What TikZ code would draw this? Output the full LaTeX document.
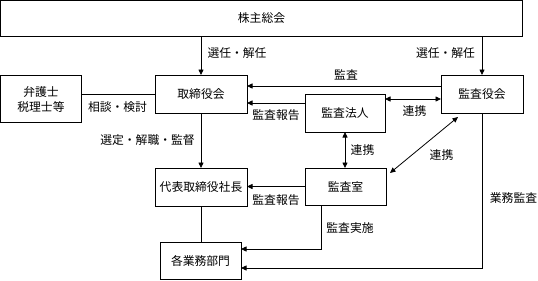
\documentclass[tikz,border=0pt]{standalone}
\usepackage{fontspec}
\setmainfont{Noto Sans CJK JP}
\usetikzlibrary{arrows.meta}
\begin{document}
\begin{tikzpicture}[x=1pt,y=-1pt,
  every node/.style={font=\fontsize{11.8}{15}\selectfont, inner sep=0pt, outer sep=0pt},
  box/.style={draw=black, line width=0.8pt, fill=white, align=center},
  lbl/.style={},
  arr/.style={line width=0.8pt, -{Triangle[length=5.5pt,width=5pt]}},
  dbl/.style={line width=0.8pt, {Triangle[length=5.5pt,width=5pt]}-{Triangle[length=5.5pt,width=5pt]}},
  ln/.style={line width=0.8pt}]
\useasboundingbox (0,0) rectangle (538,281);
% boxes
\node[box, minimum width=522pt, minimum height=36pt] (kabu) at (261.5,18.5) {株主総会};
\node[box, minimum width=92pt, minimum height=38pt] (tori) at (201,94) {取締役会};
\node[box, minimum width=81pt, minimum height=47pt] (ben) at (41,99) {弁護士\\税理士等};
\node[box, minimum width=82pt, minimum height=38pt] (yaku) at (482,94) {監査役会};
\node[box, minimum width=80pt, minimum height=38pt] (hojin) at (345,113) {監査法人};
\node[box, minimum width=92pt, minimum height=38pt] (daihyo) at (201,187) {代表取締役社長};
\node[box, minimum width=81pt, minimum height=37pt] (shitsu) at (345.5,186.5) {監査室};
\node[box, minimum width=81pt, minimum height=37pt] (gyomu) at (200.5,260.5) {各業務部門};
% connectors
\draw[arr] (tori.north |- kabu.south) -- (tori.north);
\draw[arr] (yaku.north |- kabu.south) -- (yaku.north);
\draw[ln] (tori.west -| ben.east) -- (tori.west);
\draw[arr] ([yshift=8pt]yaku.west) -- ([yshift=8pt]yaku.west -| tori.east);
\draw[arr] ([yshift=10pt]hojin.west) -- ([yshift=10pt]hojin.west -| tori.east);
\draw[dbl] ([yshift=14pt]hojin.east) -- ([yshift=14pt]hojin.east -| yaku.west);
\draw[arr] (tori.south) -- (daihyo.north);
\draw[dbl] (hojin.south) -- (hojin.south |- shitsu.north);
\coordinate (dA) at (390,173);
\coordinate (dB) at (458,117);
\draw[dbl] (dA) -- (dB);
\draw[arr] (shitsu.west) -- (shitsu.west -| daihyo.east);
\draw[ln] (daihyo.south) -- (daihyo.south |- gyomu.north);
\draw[arr] ([xshift=-24.5pt]shitsu.south) |- ([yshift=11.5pt]gyomu.east);
\draw[arr] (yaku.south) |- ([yshift=-7.5pt]gyomu.east);
% labels
\node[lbl] (l1) at (237,53) {選任・解任};
\node[lbl] (l2) at (445.5,53) {選任・解任};
\node[lbl] (l3) at (117.5,107) {相談・検討};
\node[lbl] (l4) at (346,75) {監査};
\node[lbl] (l5) at (276,115) {監査報告};
\node[lbl] (l6) at (414.5,111) {連携};
\node[lbl] (l7) at (147.5,140) {選定・解職・監督};
\node[lbl] (l8) at (362.5,150) {連携};
\node[lbl] (l9) at (441.5,155) {連携};
\node[lbl] (l10) at (276,200) {監査報告};
\node[lbl] (l11) at (350,228) {監査実施};
\node[lbl] (l12) at (513.5,198) {業務監査};
\end{tikzpicture}
\end{document}
